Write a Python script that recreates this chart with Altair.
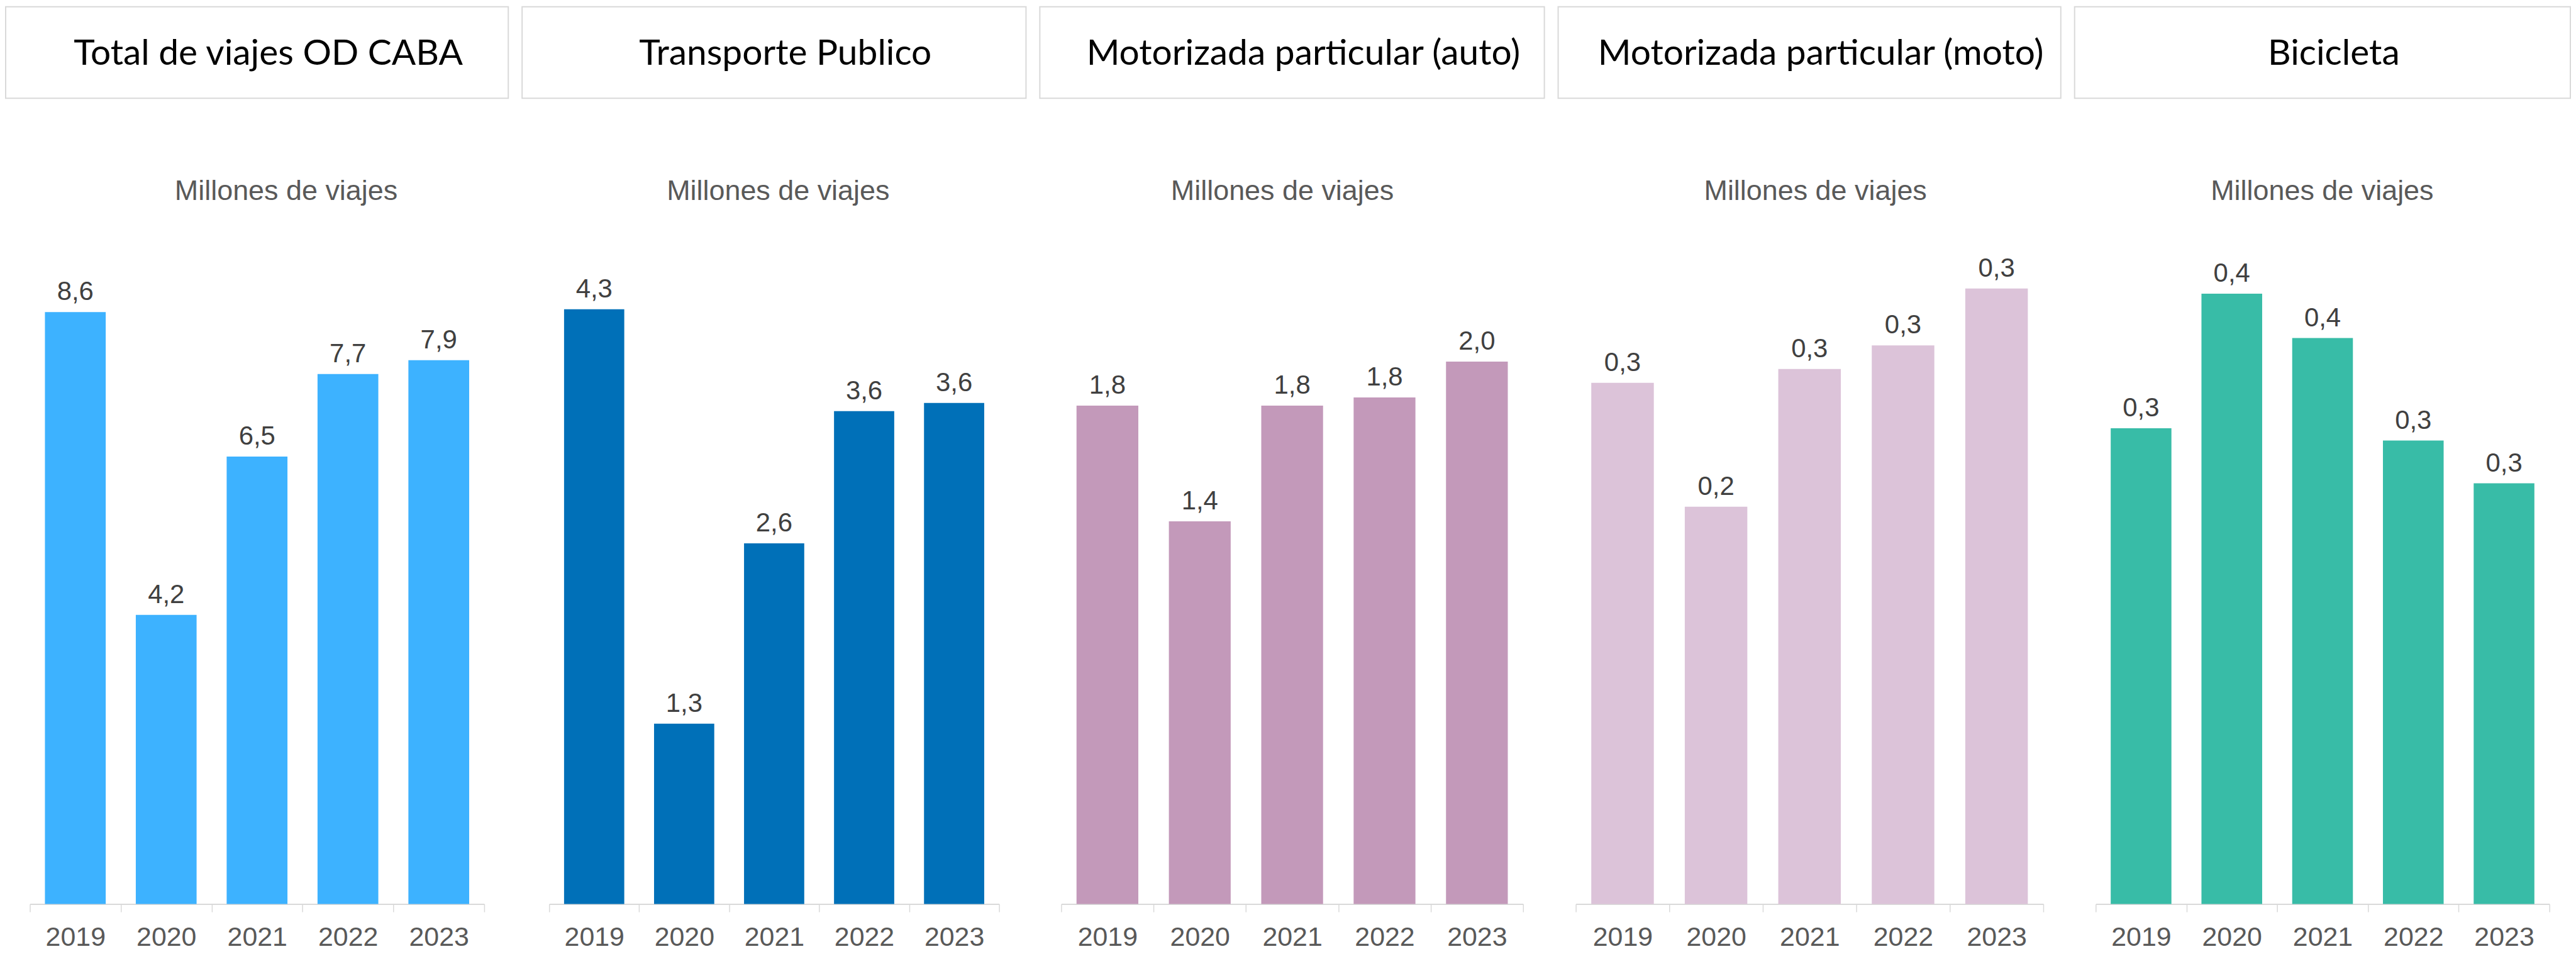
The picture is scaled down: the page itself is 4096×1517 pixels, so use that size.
import altair as alt
import pandas as pd

# ---- data ----
years = ["2019", "2020", "2021", "2022", "2023"]
panel_titles = [
    "Total de viajes OD CABA",
    "Transporte Publico",
    "Motorizada particular (auto)",
    "Motorizada particular (moto)",
    "Bicicleta",
]
subtitle = "Millones de viajes"
total_od = [8.6, 4.2, 6.5, 7.7, 7.9]
transporte_publico = [4.32, 1.31, 2.62, 3.58, 3.64]
auto = [1.81, 1.39, 1.81, 1.84, 1.97]
moto = [0.265, 0.202, 0.272, 0.284, 0.313]
bicicleta = [0.311, 0.399, 0.370, 0.303, 0.275]
series = [total_od, transporte_publico, auto, moto, bicicleta]

# ---- styles ----
colors = ["#3db2ff", "#0070b8", "#c399ba", "#dcc3d9", "#38bca7"]
y_max = [10, 5, 2.5, 0.35, 0.45]
header_w = [801, 803, 804, 801, 790]
plot_w = [724, 717, 736, 745, 723]
subtitle_dx = [46, 6, -16, 9, -1]
HEADER_H = 146
SUB_H = 186
SUB_BASE = 161
PLOT_H = 1097
GRAY = "#d9d9d9"

cols = []
for i in range(5):
    df = pd.DataFrame({"year": years, "value": series[i]})
    header = (
        alt.Chart(pd.DataFrame({"t": [panel_titles[i]]}))
        .mark_text(font="Lato", fontSize=57, color="#000000", align="center", baseline="alphabetic")
        .encode(text="t:N", x=alt.value(header_w[i] / 2 + 18), y=alt.value(93))
        .properties(width=header_w[i], height=HEADER_H,
                    view=alt.ViewBackground(stroke=GRAY, strokeWidth=2))
    )
    sub = (
        alt.Chart(pd.DataFrame({"s": [subtitle]}))
        .mark_text(font="Liberation Sans", fontSize=45, color="#595959", align="center", baseline="alphabetic")
        .encode(text="s:N", x=alt.value(plot_w[i] / 2 + subtitle_dx[i]), y=alt.value(SUB_BASE))
        .properties(width=plot_w[i], height=SUB_H)
    )
    base = alt.Chart(df).encode(
        x=alt.X(
            "year:N", sort=years, title=None,
            scale=alt.Scale(paddingInner=0, paddingOuter=0),
            axis=alt.Axis(
                labelAngle=0, tickBand="extent", labelFont="Liberation Sans",
                labelFontSize=43, labelColor="#595959", labelPadding=20,
                tickSize=12.6, tickColor=GRAY, tickWidth=1.5,
                domainColor=GRAY, domainWidth=2, grid=False,
            ),
        ),
        y=alt.Y("value:Q", scale=alt.Scale(domain=[0, y_max[i]], nice=False, zero=True), axis=None),
    )
    bars = base.mark_bar(color=colors[i], width=alt.RelativeBandSize(0.669))
    labels = (
        base.transform_calculate(lbl="replace(format(datum.value, '.1f'), '.', ',')")
        .mark_text(font="Liberation Sans", fontSize=42, color="#404040",
                   baseline="alphabetic", align="center", dy=-19)
        .encode(text="lbl:N")
    )
    panel = (bars + labels).properties(width=plot_w[i], height=PLOT_H)
    cols.append(alt.vconcat(header, sub, panel, spacing=0, center=True))

chart = (
    alt.hconcat(*cols, spacing=20)
    .properties(padding=0)
    .configure_view(strokeWidth=0)
)

chart.save("out.html", embed_options={"renderer": "svg", "actions": False})
